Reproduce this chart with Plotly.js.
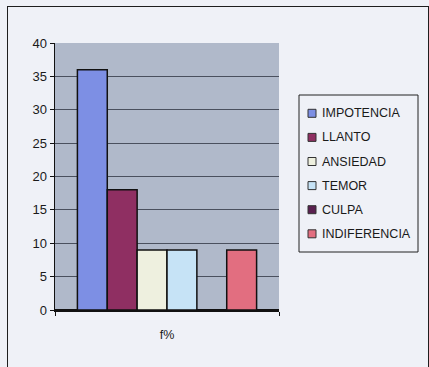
<!DOCTYPE html>
<html>
<head>
<meta charset="utf-8">
<script src="https://cdn.plot.ly/plotly-3.0.1.min.js"></script>
<style>
  html, body { margin: 0; padding: 0; background: #eff1f7; }
  #wrap { position: relative; width: 429px; height: 367px; overflow: hidden; }
  #chart { position: absolute; left: 0; top: 0; width: 429px; height: 367px; }
  #frame { position: absolute; left: 7px; top: 6px; width: 420px; height: 400px;
           border: 1.5px solid #1e1e1e; pointer-events: none; }
</style>
</head>
<body>
<div id="wrap">
  <div id="chart"></div>
  <div id="frame"></div>
</div>
<script>
// ---- data ----
const categories = ["f%"];
const seriesNames = ["IMPOTENCIA", "LLANTO", "ANSIEDAD", "TEMOR", "CULPA", "INDIFERENCIA"];
const seriesValues = [36, 18, 9, 9, 0, 9];
const seriesColors = ["#7d8fe4", "#8f2f62", "#eef0df", "#c6e3f6", "#5a2050", "#e26e80"];
const yTicks = [0, 5, 10, 15, 20, 25, 30, 35, 40];

// ---- layout geometry (pixels) ----
const W = 429, H = 367;
const L = 55, R = 279, T = 43, B = 310;
const px = x => (x - L) / (R - L);
const py = y => (B - y) / (B - T);

const traces = seriesNames.map((name, i) => ({
  type: "bar",
  name: name,
  x: categories,
  y: [seriesValues[i]],
  marker: { color: seriesColors[i], line: { color: "#111", width: 1.5 } },
  showlegend: false,
  hoverinfo: "skip"
}));

// manual legend (built from the series arrays)
const shapes = [{
  type: "rect", xref: "paper", yref: "paper",
  x0: px(299), x1: px(418), y0: py(95), y1: py(252),
  line: { color: "#222", width: 1 }, fillcolor: "rgba(0,0,0,0)"
}];
const annotations = [];
seriesNames.forEach((name, i) => {
  const cy = 113.3 + i * 24.1;
  shapes.push({
    type: "rect", xref: "paper", yref: "paper",
    x0: px(308), x1: px(316), y0: py(cy - 4), y1: py(cy + 4),
    line: { color: "#333", width: 1 }, fillcolor: seriesColors[i]
  });
  annotations.push({
    xref: "paper", yref: "paper", x: px(320), y: py(cy),
    xanchor: "left", yanchor: "middle", showarrow: false,
    text: name, font: { family: "Liberation Sans, Arial, sans-serif", size: 12.5, color: "#1a1a1a" }
  });
});

const layout = {
  width: W, height: H,
  margin: { l: L, r: W - R, t: T, b: H - B, pad: 0 },
  paper_bgcolor: "rgba(0,0,0,0)",
  plot_bgcolor: "#b0b9ca",
  barmode: "group",
  bargap: 0.2,
  bargroupgap: 0,
  showlegend: false,
  font: { family: "Liberation Sans, Arial, sans-serif", size: 12.5, color: "#1a1a1a" },
  xaxis: {
    type: "category",
    showgrid: false,
    showline: true, linecolor: "#111", linewidth: 1.5,
    ticks: "outside", tickson: "boundaries", ticklen: 4, tickcolor: "#111",
    ticklabelstandoff: 12,
    tickfont: { size: 12.5, color: "#1a1a1a" },
    zeroline: false, fixedrange: true
  },
  yaxis: {
    range: [0, 40],
    tickmode: "array", tickvals: yTicks, ticktext: yTicks.map(String),
    showgrid: true, gridcolor: "#4a505e", gridwidth: 1,
    showline: true, linecolor: "#111", linewidth: 1.5,
    ticks: "outside", ticklen: 4, tickcolor: "#111",
    tickfont: { size: 13, color: "#1a1a1a" },
    zeroline: true, zerolinecolor: "#111", zerolinewidth: 1.5,
    fixedrange: true
  },
  shapes: shapes,
  annotations: annotations
};

Plotly.newPlot("chart", traces, layout, { displayModeBar: false, staticPlot: true });
</script>
</body>
</html>
